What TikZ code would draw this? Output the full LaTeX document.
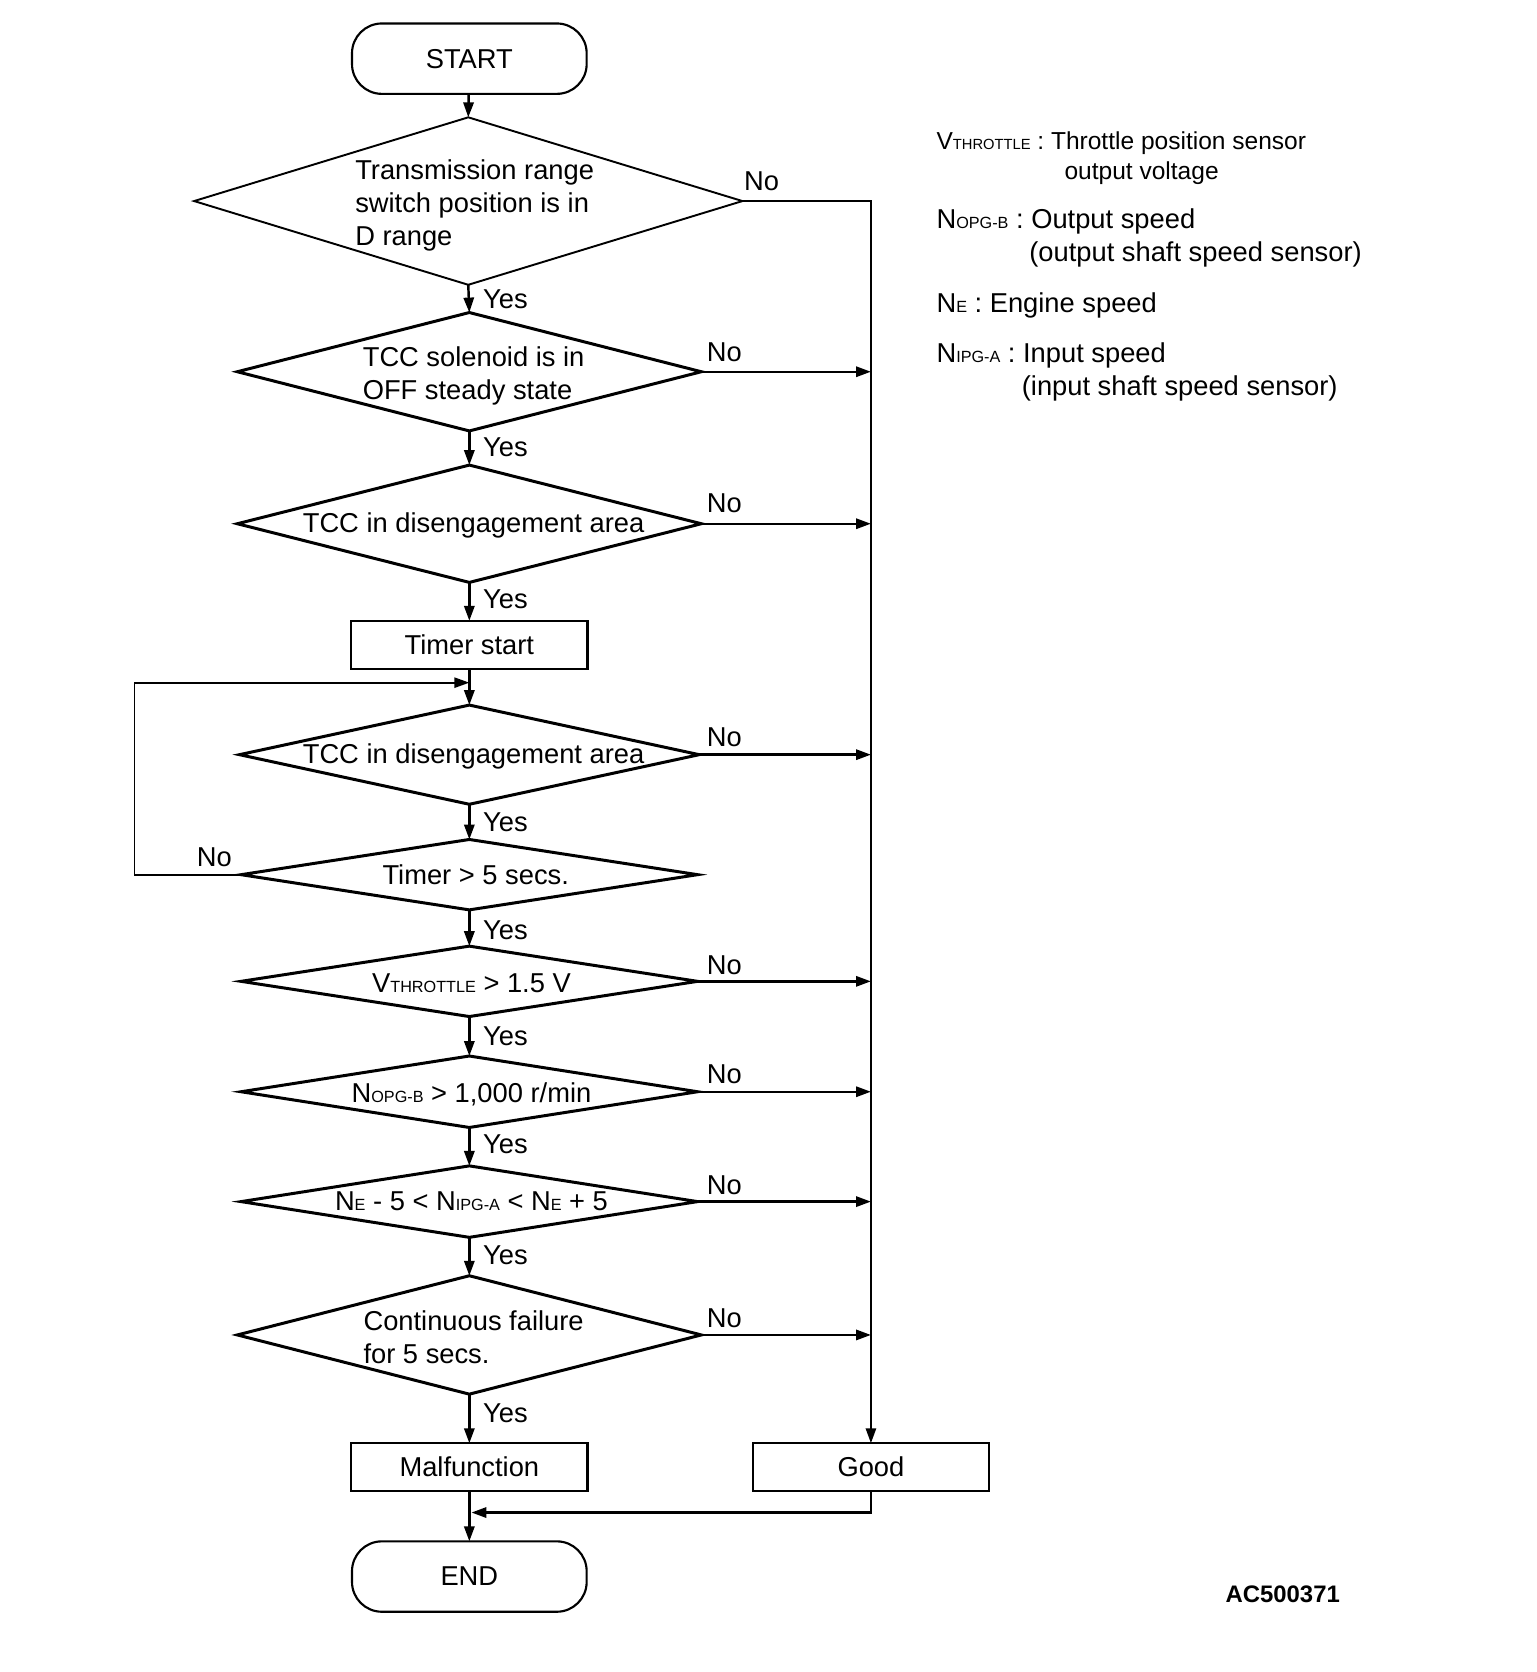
\documentclass[tikz,border=0pt]{standalone}
\usepackage{fontspec}
\setmainfont{Liberation Sans}
\usetikzlibrary{shapes.geometric,arrows.meta}
\newcommand\sbs[1]{{\fontsize{7.6}{8}\selectfont #1}}
\newcommand\sbl[1]{{\fontsize{6.9}{7}\selectfont #1}}
\begin{document}
\begin{tikzpicture}[x=0.5pt,y=-0.5pt,
  every node/.style={font=\fontsize{12.8}{15.5}\selectfont, inner sep=0pt, outer sep=0pt},
  dia/.style={draw, diamond, line width=1.4pt, minimum width=217.5pt},
  flatdia/.style={dia, minimum width=214pt},
  term/.style={draw, rectangle, rounded corners=14pt, line width=1pt, minimum width=110pt, minimum height=33pt},
  procbox/.style={draw, rectangle, line width=1.2pt, minimum width=111pt, minimum height=22.5pt},
  conn/.style={line width=1.15pt, -{Triangle[length=7pt,width=4.8pt]}},
  lbl/.style={anchor=west},
  txt/.style={align=left, xshift=2pt}
]
\useasboundingbox (0,0) rectangle (1440,1567.5);

% terminals and boxes
\node[term] (start) at (440,55) {START};
\node[dia, line width=0.9pt, minimum width=257pt, minimum height=78.5pt,
  label={[txt,xshift=1pt,yshift=-2pt]center:Transmission range\\switch position is in\\D range}] (d1) at (439,188.5) {};
\node[dia, minimum height=55.5pt,
  label={[txt,yshift=-2pt]center:TCC solenoid is in\\OFF steady state}] (d2) at (440,348.5) {};
\node[dia, minimum height=55pt,
  label={[txt,yshift=-1pt]center:TCC in disengagement area}] (d3) at (440,491) {};
\node[procbox] (timer) at (440,604.5) {Timer start};
\node[dia, minimum width=215.5pt, minimum height=46.5pt,
  label={[txt,yshift=-1pt]center:TCC in disengagement area}] (d4) at (440,707.5) {};
\node[flatdia, minimum height=33pt,
  label={[txt,xshift=1pt]center:Timer > 5 secs.}] (d5) at (440,820) {};
\node[flatdia, minimum height=33pt,
  label={[txt,xshift=-1pt,yshift=-1pt]center:V\sbs{THROTTLE} > 1.5 V}] (d6) at (440,920) {};
\node[flatdia, minimum height=33.5pt,
  label={[txt,xshift=-1pt,yshift=-1pt]center:N\sbs{OPG-B} > 1,000 r/min}] (d7) at (440,1023.5) {};
\node[flatdia, minimum height=33.5pt,
  label={[txt,xshift=-1pt]center:N\sbs{E} - 5 < N\sbs{IPG-A} < N\sbs{E} + 5}] (d8) at (440,1126.5) {};
\node[dia, minimum height=55.5pt,
  label={[txt,yshift=-1pt]center:Continuous failure\\for 5 secs.}] (d9) at (440,1251.5) {};
\node[procbox] (mal) at (440,1375.5) {Malfunction};
\node[procbox, minimum width=110.5pt] (good) at (816.5,1375.5) {Good};
\node[term] (end) at (440,1478) {END};

\coordinate (join) at (440,640);
\coordinate (loopx) at (126,640);
\coordinate (merge) at (442,1418);

% main chain
\draw[conn] (start) -- (d1.north);
\draw[conn] (d1.south) -- (d2.north);
\draw[conn] (d2.south) -- (d3.north);
\draw[conn] (d3.south) -- (timer.north);
\draw[conn] (timer.south) -- (d4.north);
\draw[conn] (d4.south) -- (d5.north);
\draw[conn] (d5.south) -- (d6.north);
\draw[conn] (d6.south) -- (d7.north);
\draw[conn] (d7.south) -- (d8.north);
\draw[conn] (d8.south) -- (d9.north);
\draw[conn] (d9.south) -- (mal.north);
\draw[conn] (mal.south) -- (end.north);

% No branches
\draw[conn, line width=1.05pt] (d1.east) -| (good.north);
\foreach \d in {d2,d3,d4,d6,d7,d8,d9}{
  \draw[conn] (\d.east) -- (\d.east -| good.north);
}
% loop
\draw[conn, line width=0.8pt] (d5.west) -- (d5.west -| loopx) |- (join);
% good to end
\draw[conn] (good.south) |- (merge);

% Yes labels
\foreach \y/\n in {281/a,419/b,562/c,771/d,872/e,971/f,1073/g,1177/h,1325/i}{
  \node[lbl] (yes\n) at (453,\y) {Yes};
}
% No labels
\node (no1) at (714,170) {No};
\foreach \y/\n in {330/b,472/c,691/d,905/f,1007/g,1111/h,1236/i}{
  \node (no\n) at (679,\y) {No};
}
\node (noloop) at (201,804) {No};

% legend
\node[lbl, font=\fontsize{11.5}{13}\selectfont] (l1) at (878,134) {V\sbl{THROTTLE} : Throttle position sensor};
\node[lbl, font=\fontsize{11.5}{13}\selectfont] (l1b) at (998,162) {output voltage};
\node[lbl] (l2) at (878,208) {N\sbs{OPG-B} : Output speed};
\node[lbl] (l2b) at (965,239) {(output shaft speed sensor)};
\node[lbl] (l3) at (878,286) {N\sbs{E} : Engine speed};
\node[lbl] (l4) at (878,333) {N\sbs{IPG-A} : Input speed};
\node[lbl] (l4b) at (958,364) {(input shaft speed sensor)};

\node[lbl, font=\fontsize{11.2}{12}\selectfont\bfseries] (code) at (1149,1495) {AC500371};
\end{tikzpicture}
\end{document}
